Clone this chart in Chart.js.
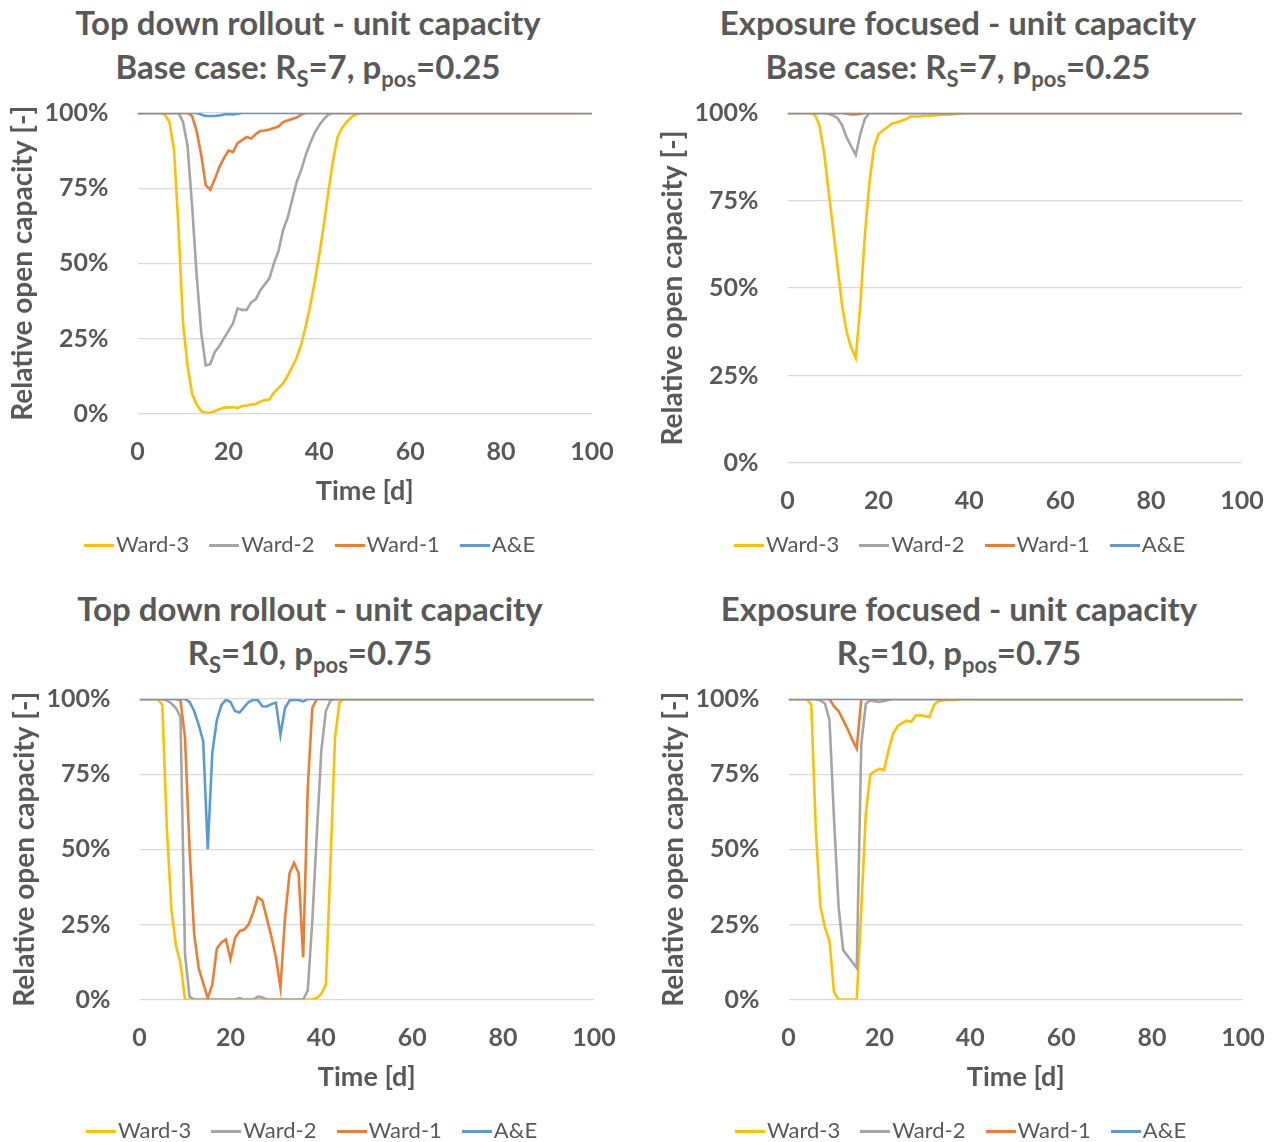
<!DOCTYPE html>
<html>
<head>
<meta charset="utf-8">
<script src="https://cdn.jsdelivr.net/npm/chart.js@4.4.1/dist/chart.umd.min.js"></script>
<style>
  body { margin: 0; background: #fff; width: 1274px; height: 1142px; position: relative; overflow: hidden;
         font-family: Lato, "Open Sans", sans-serif; color: #595959; }
  .panel { position: absolute; width: 637px; height: 571px; }
  .title { position: absolute; left: 0; top: 0; width: 616px; text-align: center; font-weight: bold;
           font-size: 33px; line-height: 44px; z-index: 2; }
  .title sub { font-size: 22px; line-height: 0; vertical-align: -8px; }
  .box { position: absolute; left: 0; top: 92px; width: 637px; height: 478px; }
</style>
</head>
<body>

<div class="panel" style="left:0;top:0">
  <div class="title">Top down rollout - unit capacity<br>Base case: R<sub>S</sub>=7, p<sub>pos</sub>=0.25</div>
  <div class="box"><canvas id="c1"></canvas></div>
</div>
<div class="panel" style="left:650px;top:0">
  <div class="title">Exposure focused - unit capacity<br>Base case: R<sub>S</sub>=7, p<sub>pos</sub>=0.25</div>
  <div class="box"><canvas id="c2"></canvas></div>
</div>
<div class="panel" style="left:2px;top:586px">
  <div class="title">Top down rollout - unit capacity<br>R<sub>S</sub>=10, p<sub>pos</sub>=0.75</div>
  <div class="box"><canvas id="c3"></canvas></div>
</div>
<div class="panel" style="left:651px;top:586px">
  <div class="title">Exposure focused - unit capacity<br>R<sub>S</sub>=10, p<sub>pos</sub>=0.75</div>
  <div class="box"><canvas id="c4"></canvas></div>
</div>

<script>
// days 0..50, then day 100
const days = [0,1,2,3,4,5,6,7,8,9,10,11,12,13,14,15,16,17,18,19,20,21,22,23,24,25,26,27,28,29,30,
  31,32,33,34,35,36,37,38,39,40,41,42,43,44,45,46,47,48,49,50,100];
const dayTicks = [0, 20, 40, 60, 80, 100];
const pctTicks = [0, 25, 50, 75, 100];
const seriesNames = ['Ward-3', 'Ward-2', 'Ward-1', 'A&E'];
const seriesColors = ['#FFC000', '#A5A5A5', '#ED7D31', '#5B9BD5'];

// top down rollout, base case
const ward3TopBase = [100,100,100,100,100,100,99.5,97,88,62,30,16,6.5,3,0.8,0.3,0.3,0.8,1.5,2,2,2.2,1.8,2.5,2.7,3,
  3.2,4,4.5,4.7,7,8.5,10,12.5,15.5,18.5,23,29,36,44,53,63,74,84,92,95,97,98.5,99.5,100,100,100];
const ward2TopBase = [100,100,100,100,100,100,100,100,100,100,97,89,69,46,27,16,16.5,20.5,22.5,25,27.5,30,35,34.5,
  34.5,37,38,41,43,45,50,54,61,65,71,77,81,86,90,93.5,96,98,99.5,100,100,100,100,100,100,100,100,100];
const ward1TopBase = [100,100,100,100,100,100,100,100,100,100,100,100,99,94,86,76,74.5,78,82,85,87.5,87,90,91,92,
  91.5,93,94,94.2,94.5,95,95.5,97,97.5,98,98.5,99.5,100,100,100,100,100,100,100,100,100,100,100,100,100,100,100];
const aeTopBase = [100,100,100,100,100,100,100,100,100,100,100,100,100,100,99.5,99,99,99,99.2,99.5,99.7,99.5,99.8,
  100,100,100,100,100,100,100,100,100,100,100,100,100,100,100,100,100,100,100,100,100,100,100,100,100,100,100,100,100];

// exposure focused, base case
const ward3ExpBase = [100,100,100,100,100,100,99.5,96.5,89,78,67,56,45,37.5,33,30,45,65,80,90,94,95,96,97,97.3,97.8,
  98.2,99,99,99,99.2,99.2,99.3,99.4,99.5,99.5,99.6,99.7,99.8,100,100,100,100,100,100,100,100,100,100,100,100,100];
const ward2ExpBase = [100,100,100,100,100,100,100,100,100,99.8,99.3,98.5,96.5,93,90.5,88,94,98.3,100,100,100,100,
  100,100,100,100,100,100,100,100,100,100,100,100,100,100,100,100,100,100,100,100,100,100,100,100,100,100,100,100,100,100];
const ward1ExpBase = [100,100,100,100,100,100,100,100,100,100,100,100,100,99.8,99.6,99.6,99.8,100,100,100,100,100,
  100,100,100,100,100,100,100,100,100,100,100,100,100,100,100,100,100,100,100,100,100,100,100,100,100,100,100,100,100,100];
const aeExpBase = [100,100,100,100,100,100,100,100,100,100,100,100,100,100,100,100,100,100,100,100,100,100,100,100,
  100,100,100,100,100,100,100,100,100,100,100,100,100,100,100,100,100,100,100,100,100,100,100,100,100,100,100,100];

// top down rollout, R_S=10, p_pos=0.75
const ward3TopHigh = [100,100,100,100,100,98,57,30,18,12,0,0,0,0,0,0,0,0,0,0,0,0,0,0,0,0,0,0,0,0,0,0,0,0,0,0,0,0,0,
  0.5,2,5,45,87,99,100,100,100,100,100,100,100];
const ward2TopHigh = [100,100,100,100,100,100,99.5,98.5,97,94,15,1,0,0,0,0,0,0,0,0,0,0,0.5,0,0,0,1,0.8,0,0,0,0,0,0,
  0,0,0,3,26,55,83,96,99.5,100,100,100,100,100,100,100,100,100];
const ward1TopHigh = [100,100,100,100,100,100,100,100,100,99.5,87,50,22,10.5,5.5,0.5,5,17,19,20,13.5,20.5,22.8,23.3,
  25,29,34,33,27,21,14,4,27,42,45.5,42,14,70,97,100,100,100,100,100,100,100,100,100,100,100,100,100];
const aeTopHigh = [100,100,100,100,100,100,100,100,100,100,100,99,96,91.5,86,50,82,93,98,99.7,99,96,95.5,97.3,99,
  99.7,99.7,97.6,97.5,98.3,98.8,88,97,99.5,99.7,99.7,99.2,100,100,100,100,100,100,100,100,100,100,100,100,100,100,100];

// exposure focused, R_S=10, p_pos=0.75
const ward3ExpHigh = [100,100,100,100,100,98,56,31,24,19.5,2.5,0,0,0,0,0,30,62,75,76,76.8,76.3,83,88.5,91,92,92.8,
  92.4,94.5,94.6,94.3,94,98,99.3,99.5,99.7,99.7,99.7,100,100,100,100,100,100,100,100,100,100,100,100,100,100];
const ward2ExpHigh = [100,100,100,100,100,100,100,99.5,98.5,93,60,31,16.5,14.5,12.5,10.5,85,98.5,99.5,99.3,99,99.3,
  99.7,100,100,100,100,100,100,100,100,100,100,100,100,100,100,100,100,100,100,100,100,100,100,100,100,100,100,100,100,100];
const ward1ExpHigh = [100,100,100,100,100,100,100,100,100,100,97.5,96,93,90,86.5,83.5,100,100,100,100,100,100,100,
  100,100,100,100,100,100,100,100,100,100,100,100,100,100,100,100,100,100,100,100,100,100,100,100,100,100,100,100,100];
const aeExpHigh = [100,100,100,100,100,100,100,100,100,100,100,100,100,100,100,100,100,100,100,100,100,100,100,100,
  100,100,100,100,100,100,100,100,100,100,100,100,100,100,100,100,100,100,100,100,100,100,100,100,100,100,100,100];

const textColor = '#595959';
const fontFamily = 'Lato, "Open Sans", sans-serif';
const noColor = 'rgba(0,0,0,0)';

// short line used as legend marker (sits close to its label, like Excel)
function lineIcon(color) {
  const c = document.createElement('canvas');
  c.width = 30;
  c.height = 3;
  const g = c.getContext('2d');
  g.fillStyle = color;
  g.fillRect(0, 0, 30, 3);
  return c;
}

// move the legend box after layout (it is centred on the whole chart in the original)
const legendShift = {
  id: 'legendShift',
  afterLayout(chart, args, opts) {
    chart.legend.left += opts.dx;
    chart.legend.right += opts.dx;
    chart.legend.top += opts.dy;
    chart.legend.bottom += opts.dy;
  }
};

function makeChart(id, seriesList, showXTitle) {
  const datasets = seriesList.map((vals, i) => ({
    label: seriesNames[i],
    data: vals.map((v, k) => ({ x: days[k], y: v })),
    borderColor: seriesColors[i],
    backgroundColor: seriesColors[i],
    borderWidth: 2.6,
    pointRadius: 0,
    pointStyle: lineIcon(seriesColors[i]),
    tension: 0,
    order: seriesList.length - i
  }));

  new Chart(document.getElementById(id), {
    type: 'line',
    data: { datasets },
    plugins: [legendShift],
    options: {
      responsive: true,
      maintainAspectRatio: false,
      animation: false,
      layout: { padding: { left: 2, right: 45, top: 21, bottom: showXTitle ? 4 : -9 } },
      scales: {
        x: {
          type: 'linear',
          min: dayTicks[0],
          max: dayTicks[dayTicks.length - 1],
          afterBuildTicks: axis => { axis.ticks = dayTicks.map(v => ({ value: v })); },
          afterFit: axis => { if (showXTitle) axis.height -= 2; },
          grid: { display: true, drawOnChartArea: false, drawTicks: true, tickLength: 21, tickColor: noColor },
          border: { display: false },
          ticks: { color: textColor, padding: 2, maxRotation: 0,
                   font: { family: fontFamily, size: 25, weight: 'bold' } },
          title: { display: showXTitle, text: 'Time [d]', color: textColor, padding: { top: 8, bottom: -2 },
                   font: { family: fontFamily, size: 27, weight: 'bold' } }
        },
        y: {
          min: pctTicks[0],
          max: pctTicks[pctTicks.length - 1],
          afterBuildTicks: axis => { axis.ticks = pctTicks.map(v => ({ value: v })); },
          grid: { color: '#D9D9D9', lineWidth: 1.3, drawTicks: true, tickLength: 27, tickColor: noColor },
          border: { display: false },
          ticks: { color: textColor, padding: 2, callback: v => v + '%',
                   font: { family: fontFamily, size: 25, weight: 'bold' } },
          title: { display: true, text: 'Relative open capacity [-]', color: textColor, padding: { top: 4, bottom: 3 },
                   font: { family: fontFamily, size: 28, weight: 'bold' } }
        }
      },
      plugins: {
        legendShift: { dx: 17, dy: showXTitle ? 0 : -13 },
        legend: {
          position: 'bottom',
          labels: {
            usePointStyle: true,
            pointStyleWidth: 12,
            padding: 29,
            color: textColor,
            font: { family: fontFamily, size: 22 },
            sort: (a, b) => a.datasetIndex - b.datasetIndex
          }
        },
        tooltip: { enabled: false }
      }
    }
  });
}

makeChart('c1', [ward3TopBase, ward2TopBase, ward1TopBase, aeTopBase], true);
makeChart('c2', [ward3ExpBase, ward2ExpBase, ward1ExpBase, aeExpBase], false);
makeChart('c3', [ward3TopHigh, ward2TopHigh, ward1TopHigh, aeTopHigh], true);
makeChart('c4', [ward3ExpHigh, ward2ExpHigh, ward1ExpHigh, aeExpHigh], true);
</script>
</body>
</html>
